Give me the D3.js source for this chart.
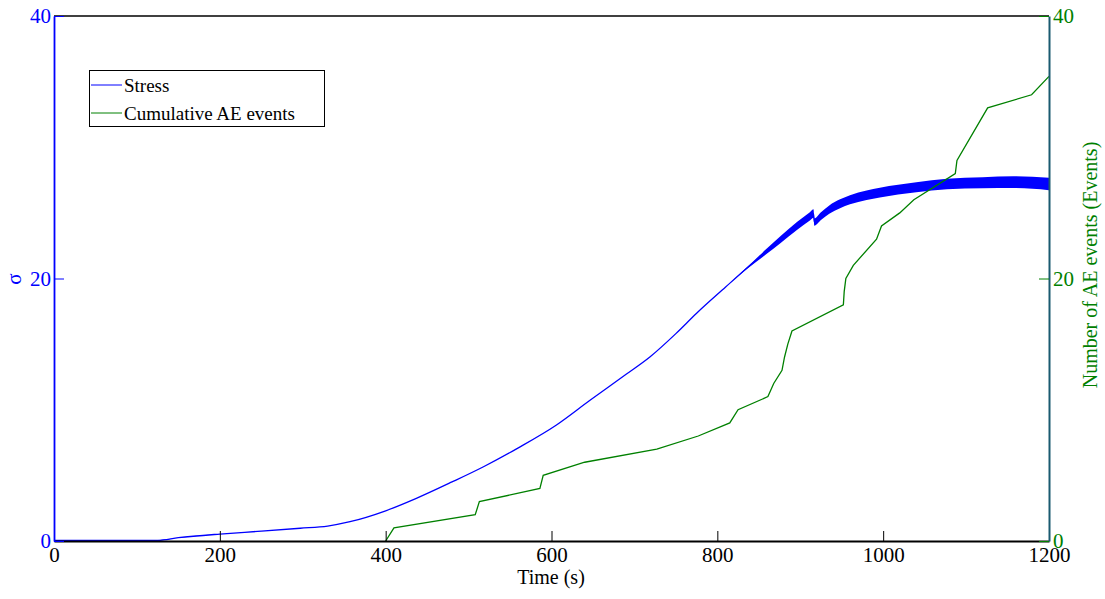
<!DOCTYPE html>
<html><head><meta charset="utf-8">
<script src="https://cdn.jsdelivr.net/npm/d3@7"></script>
<style>
body{margin:0;background:#fff}
svg{display:block}
text{font-family:"Liberation Serif","Times New Roman",serif}
</style>
</head><body>
<svg id="c" width="1105" height="599"></svg>
<script>
// ---- data ----
const timeTicks = [0, 200, 400, 600, 800, 1000, 1200];
const stressTicks = [0, 20, 40];
const aeTicks = [0, 20, 40];

const stressTime = [0, 65, 125, 150, 200, 250, 297, 330, 357, 400, 437, 480, 518, 560, 606, 646, 690, 719, 750, 775, 810, 833, 860, 876, 896, 912, 916, 917, 925, 935, 948, 960, 980, 996, 1040, 1077, 1120, 1157, 1200];
const stressMid  = [0.05, 0.05, 0.05, 0.25, 0.53, 0.75, 0.97, 1.14, 1.47, 2.3, 3.25, 4.5, 5.66, 7.1, 8.84, 10.7, 12.7, 14.04, 15.8, 17.35, 19.35, 20.65, 22.1, 22.95, 24.0, 24.75, 24.95, 24.3, 24.75, 25.25, 25.7, 26.0, 26.35, 26.55, 26.95, 27.2, 27.3, 27.34, 27.2];
const stressHalfBand = [0, 0.02, 0.02, 0, 0, 0, 0, 0, 0, 0, 0, 0, 0, 0, 0, 0, 0, 0, 0, 0, 0, 0.05, 0.2, 0.26, 0.3, 0.32, 0.32, 0.28, 0.3, 0.32, 0.34, 0.35, 0.36, 0.37, 0.38, 0.4, 0.42, 0.45, 0.47];

const aeTime  = [400, 410, 508, 513, 586, 590, 640, 727, 777, 815, 825, 861, 868, 878, 881, 885, 890, 952, 953, 955, 964, 992, 998, 1020, 1037, 1087, 1089, 1126, 1179, 1200];
const aeCount = [0, 1, 2, 3, 4, 5, 6, 7, 8, 9, 10, 11, 12, 13, 14, 15, 16, 18, 19, 20, 21, 23, 24, 25, 26, 28, 29, 33, 34, 35.4];

const seriesNames = ["Stress", "Cumulative AE events"];

// ---- layout ----
const svg = d3.select("#c");
const L = 54, R = 1049, T = 16, B = 541;
const blue = "#0000ff", green = "#008000", teal = "#1a5a70";

const x = d3.scaleLinear().domain([0, 1200]).range([L, R]);
const yL = d3.scaleLinear().domain([0, 40]).range([B, T]);
const yR = d3.scaleLinear().domain([0, 40]).range([B, T]);

// top border
svg.append("line").attr("x1", L).attr("x2", R).attr("y1", T).attr("y2", T)
  .attr("stroke", "#000").attr("stroke-width", 1.5);

// stress band + line
const stress = stressTime.map((t, i) => ({t, m: stressMid[i], h: stressHalfBand[i]}));
svg.append("path").datum(stress)
  .attr("d", d3.area().curve(d3.curveMonotoneX).x(d => x(d.t)).y0(d => yL(d.m - d.h)).y1(d => yL(d.m + d.h)))
  .attr("fill", blue);
svg.append("path").datum(stress)
  .attr("d", d3.line().curve(d3.curveMonotoneX).x(d => x(d.t)).y(d => yL(d.m)))
  .attr("fill", "none").attr("stroke", blue).attr("stroke-width", 1.3);

// AE line
const ae = aeTime.map((t, i) => ({t, v: aeCount[i]}));
svg.append("path").datum(ae)
  .attr("d", d3.line().x(d => x(d.t)).y(d => yR(d.v)))
  .attr("fill", "none").attr("stroke", green).attr("stroke-width", 1.3);

// axes
const fs = "21px";
const fmt = d3.format("d");
const gx = svg.append("g").attr("transform", `translate(0,${B})`)
  .call(d3.axisBottom(x).tickValues(timeTicks).tickFormat(fmt).tickSizeInner(-10).tickSizeOuter(0).tickPadding(6));
gx.select(".domain").attr("stroke", "#000").attr("stroke-width", 2);
gx.selectAll(".tick line").attr("stroke", "#000");
gx.selectAll("text").attr("fill", "#000").style("font-size", fs).attr("font-family", null);

const gl = svg.append("g").attr("transform", `translate(${L},0)`)
  .call(d3.axisLeft(yL).tickValues(stressTicks).tickFormat(fmt).tickSizeInner(-10).tickSizeOuter(0).tickPadding(3));
gl.select(".domain").attr("stroke", blue).attr("stroke-width", 1.8);
gl.selectAll(".tick line").attr("stroke", blue);
gl.selectAll("text").attr("fill", blue).style("font-size", fs).attr("font-family", null);

const gr = svg.append("g").attr("transform", `translate(${R},0)`)
  .call(d3.axisRight(yR).tickValues(aeTicks).tickFormat(fmt).tickSizeInner(-10).tickSizeOuter(0).tickPadding(4));
gr.select(".domain").attr("stroke", teal).attr("stroke-width", 2);
gr.selectAll(".tick line").attr("stroke", green);
gr.selectAll("text").attr("fill", green).style("font-size", fs).attr("font-family", null);

// axis titles
svg.append("text").attr("x", 551).attr("y", 584).attr("text-anchor", "middle")
  .style("font-size", "20px").attr("fill", "#000").text("Time (s)");
svg.append("text").attr("transform", "translate(21,279) rotate(-90)").attr("text-anchor", "middle")
  .style("font-size", "21px").attr("fill", blue).text("σ");
svg.append("text").attr("transform", "translate(1097,265) rotate(-90)").attr("text-anchor", "middle")
  .style("font-size", "20px").attr("fill", green).text("Number of AE events (Events)");

// legend
const lg = svg.append("g");
lg.append("rect").attr("x", 89.5).attr("y", 70.5).attr("width", 235).attr("height", 56)
  .attr("fill", "#fff").attr("stroke", "#000").attr("stroke-width", 1);
[blue, green].forEach((c, i) => {
  const yy = 85 + i * 28;
  lg.append("line").attr("x1", 91).attr("x2", 122).attr("y1", yy).attr("y2", yy)
    .attr("stroke", c).attr("stroke-width", 1);
  lg.append("text").attr("x", 124).attr("y", yy + 7).style("font-size", "19px")
    .attr("fill", "#000").text(seriesNames[i]);
});
</script>
</body></html>
